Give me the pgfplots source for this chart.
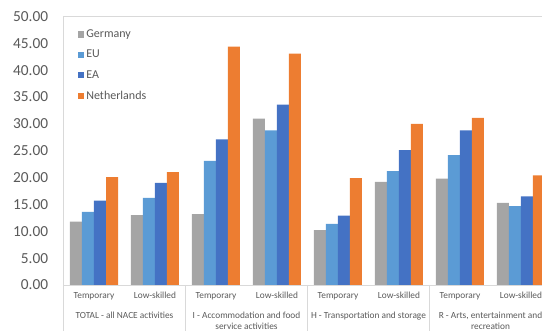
\documentclass[border=0pt]{standalone}
\usepackage{fontspec}
\setmainfont{Carlito}
\usepackage{pgfplots}
\pgfplotsset{compat=1.18}
\definecolor{gerc}{HTML}{A5A5A5}
\definecolor{euc}{HTML}{5B9BD5}
\definecolor{eac}{HTML}{4472C4}
\definecolor{nlc}{HTML}{ED7D31}
\definecolor{textc}{HTML}{595959}
\definecolor{bordc}{HTML}{D9D9D9}
\begin{document}
\begin{tikzpicture}
\useasboundingbox (0,0) rectangle (406.5pt,248.25pt);
\clip (0,0) rectangle (406.5pt,248.25pt);
\begin{axis}[
  at={(47.625pt,34.5pt)}, anchor=south west,
  scale only axis, width=366pt, height=201.4pt,
  ybar=0pt, bar width=9pt,
  xmin=-0.5, xmax=7.5, ymin=0, ymax=50,
  ytick={0,5,...,50},
  xtick={0,...,7},
  xticklabels={Temporary,Low-skilled,Temporary,Low-skilled,Temporary,Low-skilled,Temporary,Low-skilled},
  major tick length=0pt,
  axis line style={draw=bordc},
  clip=false,
  xticklabel style={font=\fontsize{7}{8}\selectfont, text=textc, yshift=-2pt},
  yticklabel style={font=\fontsize{11.5}{13}\selectfont, text=textc, xshift=-8pt,
    /pgf/number format/.cd, fixed, fixed zerofill, precision=2, assume math mode=true},
  legend style={at={(rel axis cs:0.02,0.972)}, anchor=north west, draw=none, fill=none,
    font=\fontsize{9}{11}\selectfont, text=textc, row sep=4pt},
  legend cell align=left,
]
\addplot[fill=gerc, draw=none, legend image code/.code={\fill[gerc] (0pt,-2.3pt) rectangle (4.6pt,2.3pt);}]
  coordinates {(0,11.8) (1,13.0) (2,13.2) (3,31.0) (4,10.2) (5,19.2) (6,19.8) (7,15.3)};
\addplot[fill=euc, draw=none, legend image code/.code={\fill[euc] (0pt,-2.3pt) rectangle (4.6pt,2.3pt);}]
  coordinates {(0,13.6) (1,16.2) (2,23.1) (3,28.8) (4,11.4) (5,21.2) (6,24.2) (7,14.7)};
\addplot[fill=eac, draw=none, legend image code/.code={\fill[eac] (0pt,-2.3pt) rectangle (4.6pt,2.3pt);}]
  coordinates {(0,15.7) (1,19.0) (2,27.1) (3,33.6) (4,12.9) (5,25.1) (6,28.8) (7,16.5)};
\addplot[fill=nlc, draw=none, legend image code/.code={\fill[nlc] (0pt,-2.3pt) rectangle (4.6pt,2.3pt);}]
  coordinates {(0,20.1) (1,21.0) (2,44.4) (3,43.1) (4,19.9) (5,30.0) (6,31.1) (7,20.4)};
\legend{Germany,EU,EA,Netherlands}
\draw[bordc] (axis cs:-0.5,0) -- ++(0pt,-40pt);
\draw[bordc] (axis cs:1.5,0) -- ++(0pt,-40pt);
\draw[bordc] (axis cs:3.5,0) -- ++(0pt,-40pt);
\draw[bordc] (axis cs:5.5,0) -- ++(0pt,-40pt);
\node[anchor=north, align=center, font=\fontsize{7}{8.25}\selectfont, text=textc, inner sep=0pt, yshift=-20pt] at (axis cs:0.5,0) {TOTAL - all NACE activities};
\node[anchor=north, align=center, font=\fontsize{7}{8.25}\selectfont, text=textc, inner sep=0pt, yshift=-20pt] at (axis cs:2.5,0) {I - Accommodation and food\\service activities};
\node[anchor=north, align=center, font=\fontsize{7}{8.25}\selectfont, text=textc, inner sep=0pt, yshift=-20pt] at (axis cs:4.5,0) {H - Transportation and storage};
\node[anchor=north, align=center, font=\fontsize{7}{8.25}\selectfont, text=textc, inner sep=0pt, yshift=-20pt] at (axis cs:6.5,0) {R - Arts, entertainment and\\recreation};
\end{axis}
\end{tikzpicture}
\end{document}
